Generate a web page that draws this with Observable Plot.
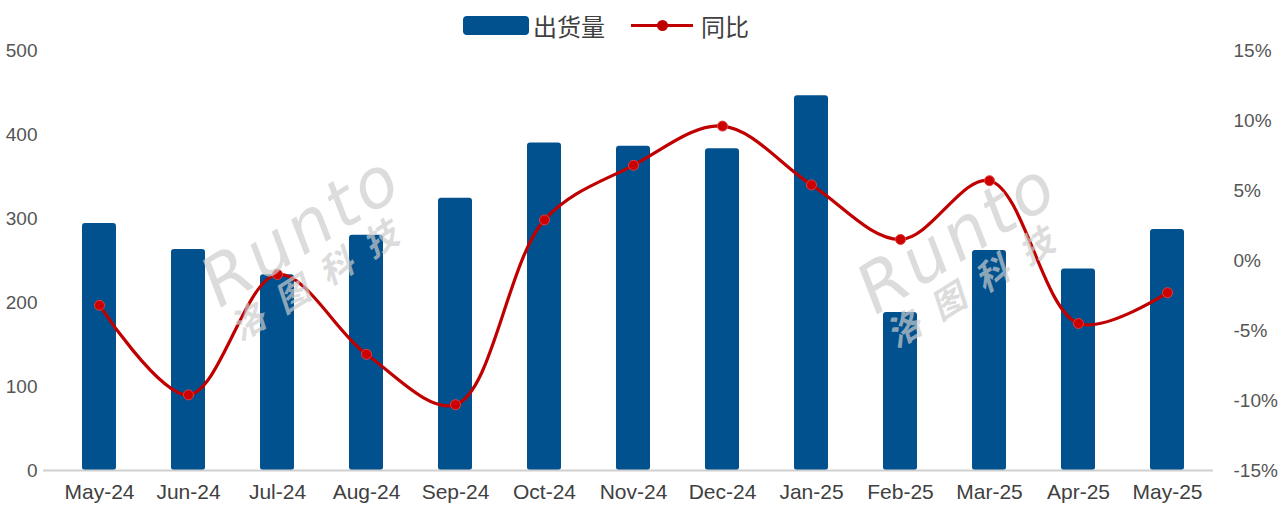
<!DOCTYPE html>
<html>
<head>
<meta charset="utf-8">
<script src="https://cdn.jsdelivr.net/npm/d3@7"></script>
<script src="https://cdn.jsdelivr.net/npm/@observablehq/plot@0.6"></script>
<style>
  html, body { margin: 0; padding: 0; background: #fff; }
  #wrap { position: relative; width: 1280px; height: 512px; overflow: hidden; font-family: "Liberation Sans", Arial, sans-serif; }
  #legend { height: 40px; padding-top: 10px; padding-right: 68px; box-sizing: border-box; display: flex; align-items: center; justify-content: center; font-family: "Noto Sans CJK SC", sans-serif; font-size: 24px; color: #404040; }
  .sw-bar { width: 66px; height: 19px; background: #00518e; border-radius: 4px; margin-right: 4px; }
  .sw-line { position: relative; width: 62px; height: 3px; background: #c00000; margin: 0 8px 0 26px; }
  .sw-line::after { content: ""; position: absolute; left: 26px; top: -4px; width: 11px; height: 11px; border-radius: 50%; background: #c00000; }
  .wm { position: absolute; color: rgba(205,205,205,0.7); font-style: italic; transform: rotate(-32deg); transform-origin: left top; white-space: nowrap; pointer-events: none; }
  .wm .en { font-family: "DejaVu Sans", sans-serif; font-size: 68px; letter-spacing: 4px; font-weight: 300; }
  .wm .cn { font-family: "Noto Sans CJK SC", sans-serif; font-size: 34px; letter-spacing: 18px; font-weight: 700; display: block; margin-left: 0px; margin-top: -16px; }
</style>
</head>
<body>
<div id="wrap">
  <div id="legend"><div class="sw-bar"></div><span>出货量</span><div class="sw-line"></div><span>同比</span></div>
  <div id="chart"></div>
  <div class="wm" style="left:186px; top:255px;"><span class="en">Runto</span><span class="cn">洛图科技</span></div>
  <div class="wm" style="left:842px; top:262px;"><span class="en">Runto</span><span class="cn">洛图科技</span></div>
</div>
<script>
const months = ["May-24","Jun-24","Jul-24","Aug-24","Sep-24","Oct-24","Nov-24","Dec-24","Jan-25","Feb-25","Mar-25","Apr-25","May-25"];
const shipments = [294, 263, 233, 280, 324, 390, 386, 383, 446, 188, 262, 240, 287];
const yoy = [-3.2, -9.6, -1.0, -6.7, -10.3, 2.9, 6.8, 9.6, 5.4, 1.5, 5.7, -4.5, -2.3];
const leftTicks = [0, 100, 200, 300, 400, 500];
const rightTicks = [-15, -10, -5, 0, 5, 10, 15];

const leftMax = 500, rMin = -15, rMax = 15;
const toLeft = v => (v - rMin) / (rMax - rMin) * leftMax;

const data = months.map((m, i) => ({month: m, value: shipments[i], yoy: yoy[i], yoyScaled: toLeft(yoy[i])}));

const chart = Plot.plot({
  width: 1280,
  height: 472,
  marginTop: 10,
  marginBottom: 42,
  marginLeft: 53,
  marginRight: 67,
  style: {fontFamily: "'Liberation Sans', Arial, sans-serif", fontSize: "19px", color: "#404040", background: "#fff"},
  x: {domain: months, paddingInner: 0.62, paddingOuter: 0.31, label: null},
  y: {domain: [0, leftMax], label: null},
  marks: [
    Plot.barY(data, {x: "month", y: "value", fill: "#00518e", rx: 3}),
    Plot.ruleY([0], {stroke: "#d0d0d0", strokeWidth: 2, insetLeft: -10}),
    Plot.line(data, {x: "month", y: "yoyScaled", stroke: "#c00000", strokeWidth: 3.2, curve: "catmull-rom"}),
    Plot.dot(data, {x: "month", y: "yoyScaled", r: 5, fill: "#cc0000", stroke: "#e04040", strokeWidth: 1}),
    Plot.axisX({tickSize: 0, tickPadding: 14, fill: "#404040", fontSize: 21, label: null}),
    Plot.axisY(leftTicks, {anchor: "left", tickSize: 0, tickPadding: 16, fill: "#555", fontSize: 19, label: null}),
    Plot.axisY(rightTicks.map(toLeft), {anchor: "right", tickSize: 0, tickPadding: 20, textAnchor: "start", fill: "#555", fontSize: 19, label: null,
      tickFormat: (d) => Math.round(d / leftMax * (rMax - rMin) + rMin) + "%"})
  ]
});
document.getElementById("chart").appendChild(chart);
</script>
</body>
</html>
